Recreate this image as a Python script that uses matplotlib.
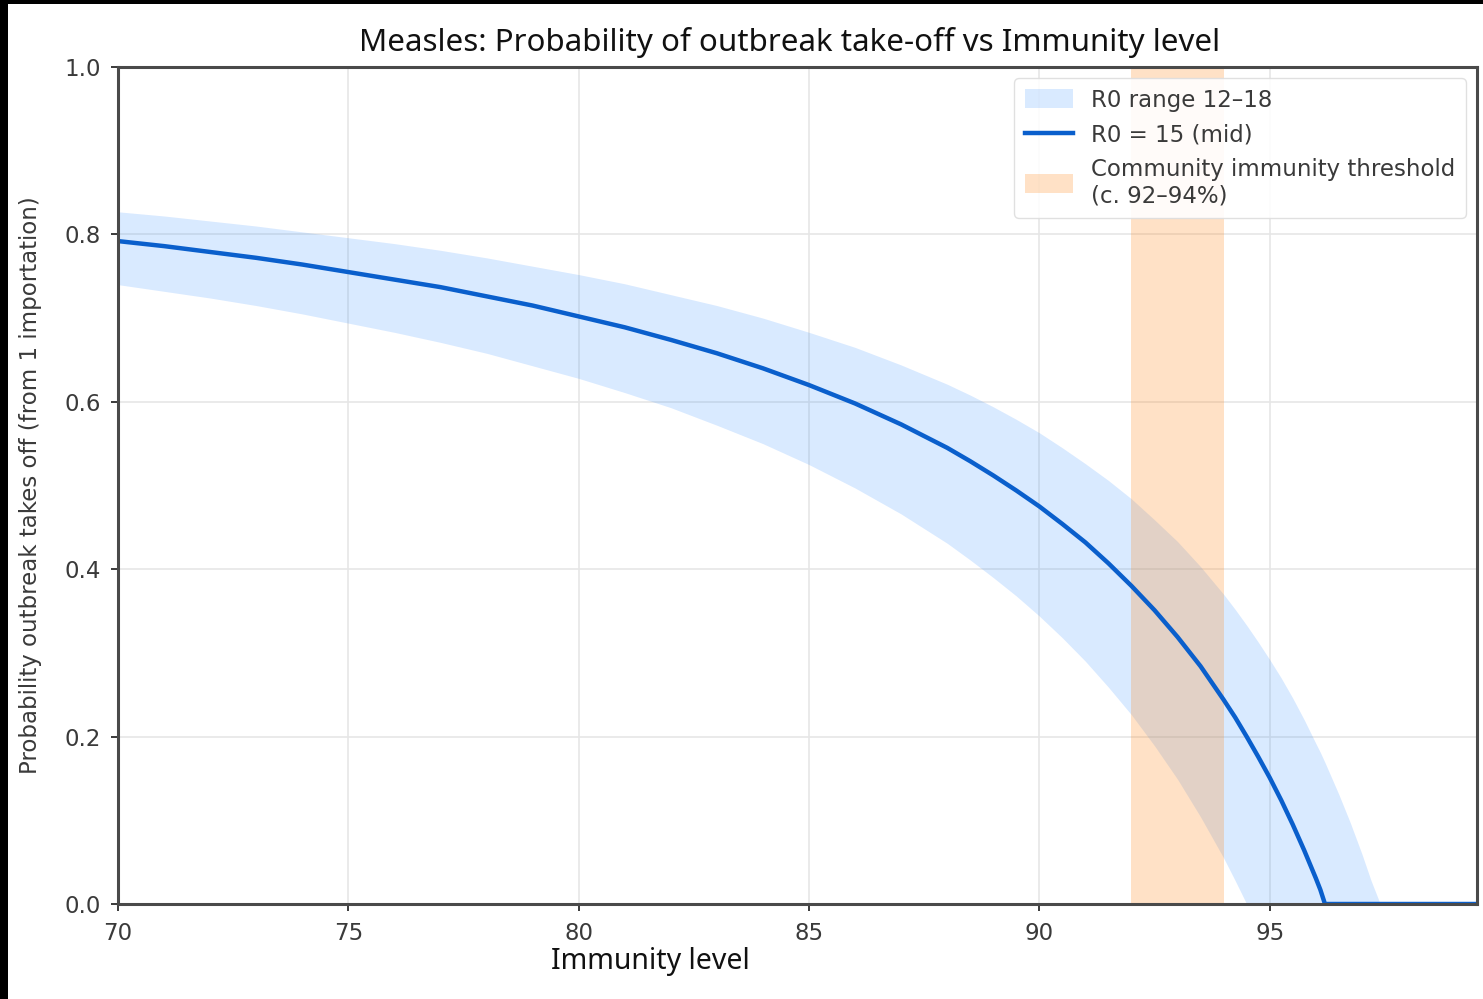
import matplotlib
matplotlib.use("Agg")
import matplotlib.pyplot as plt
from matplotlib.patches import Rectangle

# immunity level (%) and take-off probability
immunity = [70, 71, 72, 73, 74, 75, 76, 77, 78, 79, 80, 81, 82, 83, 84, 85, 86, 87, 88,
            88.5, 89, 89.5, 90, 90.5, 91, 91.5, 92, 92.5, 93, 93.5, 94, 94.25, 94.5, 94.75,
            95, 95.25, 95.5, 95.75, 96, 96.1, 96.2, 96.5, 96.75, 97, 97.2, 97.4, 98, 99, 99.5]
p_mid = [0.792, 0.786, 0.779, 0.772, 0.764, 0.755, 0.746, 0.737, 0.726, 0.715, 0.702, 0.689,
         0.674, 0.658, 0.640, 0.620, 0.598, 0.573, 0.545,
         0.529, 0.512, 0.494, 0.475, 0.454, 0.432, 0.407, 0.380, 0.351, 0.319, 0.284, 0.244,
         0.223, 0.200, 0.176,
         0.151, 0.124, 0.095, 0.064, 0.031, 0.017, 0, 0, 0, 0, 0, 0, 0, 0, 0]
p_low = [0.740, 0.732, 0.724, 0.715, 0.705, 0.694, 0.683, 0.671, 0.658, 0.643, 0.628, 0.611,
         0.593, 0.572, 0.550, 0.525, 0.497, 0.466, 0.431,
         0.411, 0.390, 0.368, 0.344, 0.318, 0.290, 0.259, 0.226, 0.189, 0.149, 0.104, 0.055,
         0.028, 0, 0,
         0, 0, 0, 0, 0, 0, 0, 0, 0, 0, 0, 0, 0, 0, 0]
p_high = [0.827, 0.822, 0.816, 0.810, 0.803, 0.796, 0.789, 0.781, 0.772, 0.762, 0.752, 0.741,
          0.728, 0.715, 0.700, 0.683, 0.665, 0.644, 0.621,
          0.608, 0.594, 0.579, 0.563, 0.545, 0.526, 0.506, 0.484, 0.459, 0.433, 0.403, 0.370,
          0.352, 0.333, 0.313,
          0.292, 0.270, 0.246, 0.220, 0.192, 0.181, 0.169, 0.131, 0.097, 0.060, 0.028, 0,
          0, 0, 0]
threshold = (92, 94)
xticks = [70, 75, 80, 85, 90, 95]
yticks = [0.0, 0.2, 0.4, 0.6, 0.8, 1.0]

W, H = 1483, 999
fig = plt.figure(figsize=(W / 100, H / 100), dpi=100)
ax = fig.add_axes([118 / W, 1 - 904 / H, (1477 - 118) / W, (904 - 67) / H])

ax.fill_between(immunity, p_low, p_high, color="#2f8cff", alpha=0.18, lw=0,
                label="R0 range 12\u201318")
ax.plot(immunity, p_mid, color="#0a5fcc", lw=3.2, label="R0 = 15 (mid)",
        solid_joinstyle="round")
ax.axvspan(threshold[0], threshold[1], color="#ff8a1e", alpha=0.25, lw=0,
           label="Community immunity threshold\n(c. 92\u201394%)")

ax.set_xlim(70, 99.5)
ax.set_ylim(0, 1)
ax.set_xticks(xticks)
ax.set_yticks(yticks)
ax.set_yticklabels([f"{v:.1f}" for v in yticks])
ax.tick_params(labelsize=16.5, colors="#3a3a3a", length=5, width=1.4)
ax.tick_params(axis="x", pad=8)
ax.tick_params(axis="y", pad=7)
ax.grid(True, color="#e6e6e6", lw=1.2)
ax.set_axisbelow(True)
for s in ax.spines.values():
    s.set_color("#4a4a4a")
    s.set_linewidth(2.2)

ax.set_ylabel("Probability outbreak takes off (from 1 importation)", fontsize=16.5,
              color="#3a3a3a")
ax.yaxis.set_label_coords(-0.056, 0.5)

leg = ax.legend(loc="upper right", fontsize=16.5, framealpha=0.9, edgecolor="#dddddd",
                handlelength=2.1, handleheight=0.9, borderpad=0.45, labelspacing=0.5,
                borderaxespad=0.5)
for t in leg.get_texts():
    t.set_color("#3a3a3a")

# x label and title in a different font, on white boxes
fig.text(650 / W, 1 - 962 / H, "Immunity level", fontsize=20.5, family="Noto Sans",
         ha="center", va="center", color="#111111")
fig.patches.append(Rectangle((337 / W, 1 - 65 / H), (1248 - 337) / W, 60 / H,
                             transform=fig.transFigure, facecolor="white", edgecolor="none",
                             zorder=5))
fig.text(790 / W, 1 - 42 / H, "Measles: Probability of outbreak take-off vs Immunity level",
         fontsize=22.5, family="Noto Sans", ha="center", va="center", color="#111111", zorder=6)

# black margins of the screenshot
fig.patches.append(Rectangle((0, 0), 8 / W, 1, transform=fig.transFigure,
                             facecolor="black", edgecolor="none", zorder=7))
fig.patches.append(Rectangle((0, 1 - 4 / H), 1, 4 / H, transform=fig.transFigure,
                             facecolor="black", edgecolor="none", zorder=7))

fig.savefig("out.png", dpi=100)
